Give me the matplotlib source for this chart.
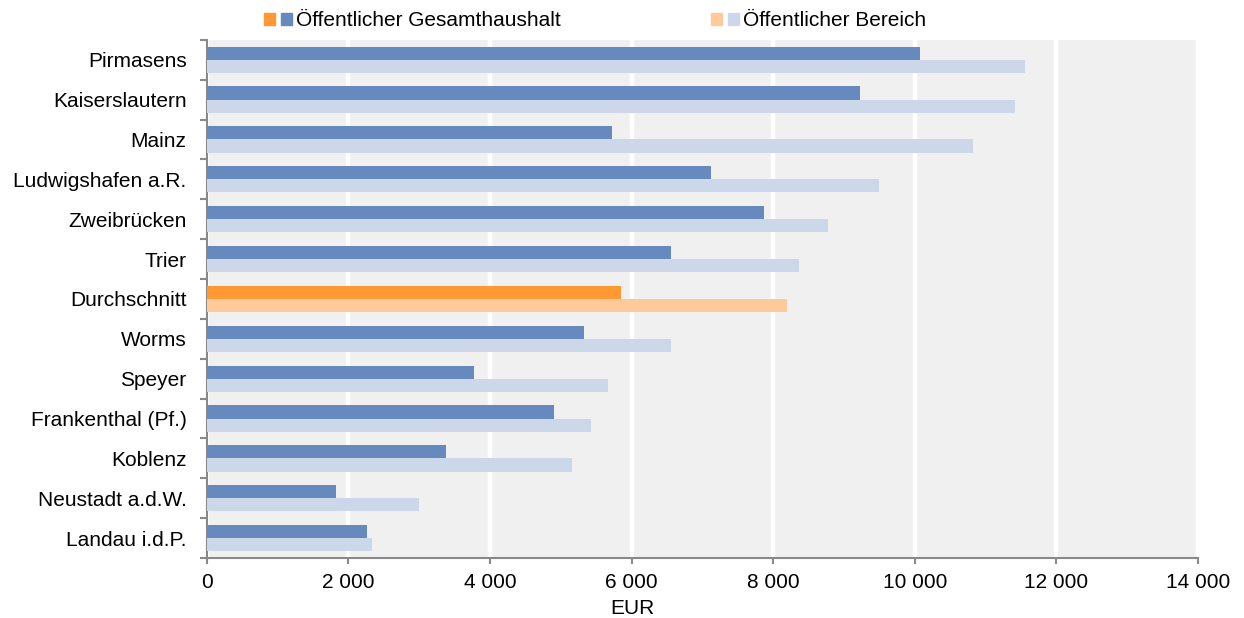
import numpy as np
import matplotlib
matplotlib.use("Agg")
import matplotlib.pyplot as plt
from matplotlib.patches import Patch
from matplotlib.legend_handler import HandlerTuple
from matplotlib.ticker import FuncFormatter, FixedLocator

plt.rcParams['font.family'] = ['Liberation Sans', 'DejaVu Sans']

# data (EUR)
categories = ["Pirmasens", "Kaiserslautern", "Mainz", "Ludwigshafen a.R.",
              "Zweibrücken", "Trier", "Durchschnitt", "Worms", "Speyer",
              "Frankenthal (Pf.)", "Koblenz", "Neustadt a.d.W.", "Landau i.d.P."]
gesamthaushalt = [10070, 9220, 5730, 7125, 7875, 6560, 5845, 5325, 3770, 4900, 3380, 1830, 2270]
bereich = [11555, 11415, 10820, 9500, 8780, 8365, 8195, 6555, 5670, 5425, 5155, 2995, 2335]
highlight = "Durchschnitt"
series_names = ["Öffentlicher Gesamthaushalt", "Öffentlicher Bereich"]

dark_blue, light_blue = '#6689BE', '#CCD8E9'
dark_orange, light_orange = '#FF9933', '#FFCA99'

fs = 15
fig = plt.figure(figsize=(12.44, 6.18), dpi=100)
ax = fig.add_axes([0.1662, 0.097, 0.7969, 0.8386])
ax.set_facecolor('#F0F0F0')

y = np.arange(len(categories))
h = 0.33
c1 = [dark_orange if c == highlight else dark_blue for c in categories]
c2 = [light_orange if c == highlight else light_blue for c in categories]
ax.barh(y - h / 2, gesamthaushalt, height=h, color=c1, zorder=3)
ax.barh(y + h / 2, bereich, height=h, color=c2, zorder=3)

ax.set_ylim(len(categories) - 0.5, -0.5)
ax.set_xlim(0, 14000)
ax.set_xticks(np.arange(0, 14001, 2000))
ax.xaxis.set_major_formatter(FuncFormatter(lambda v, p: f"{v:,.0f}".replace(",", " ")))
ax.grid(axis='x', color='white', linewidth=3.2, zorder=1)
ax.set_axisbelow(True)

ax.set_yticks(y)
ax.set_yticklabels(categories)
ax.yaxis.set_minor_locator(FixedLocator(np.arange(-0.5, len(categories), 1)))
ax.tick_params(axis='y', which='major', length=0, pad=14.5, labelsize=fs)
ax.tick_params(axis='y', which='minor', length=5.3, width=1.5, color='#898989')
ax.tick_params(axis='x', length=4, width=1.5, color='#898989', pad=7, labelsize=fs)

for s in ['top', 'right']:
    ax.spines[s].set_visible(False)
for s in ['left', 'bottom']:
    ax.spines[s].set_color('#898989')
    ax.spines[s].set_linewidth(1.5)

ax.set_xlabel("EUR", fontsize=fs)
ax.xaxis.label.set_va('center')
ax.xaxis.set_label_coords(0.429, -0.098)

handles = [(Patch(color=dark_orange), Patch(color=dark_blue)),
           (Patch(color=light_orange), Patch(color=light_blue))]
fig.legend(handles, series_names, ncol=2, frameon=False, fontsize=fs,
           loc='center left', bbox_to_anchor=(264 / 1244, 1 - 21 / 618),
           borderpad=0, borderaxespad=0, handlelength=1.35, handleheight=0.55,
           handletextpad=0.2, columnspacing=7.2,
           handler_map={tuple: HandlerTuple(ndivide=None, pad=0.28)})

fig.savefig("out.png", dpi=100)
